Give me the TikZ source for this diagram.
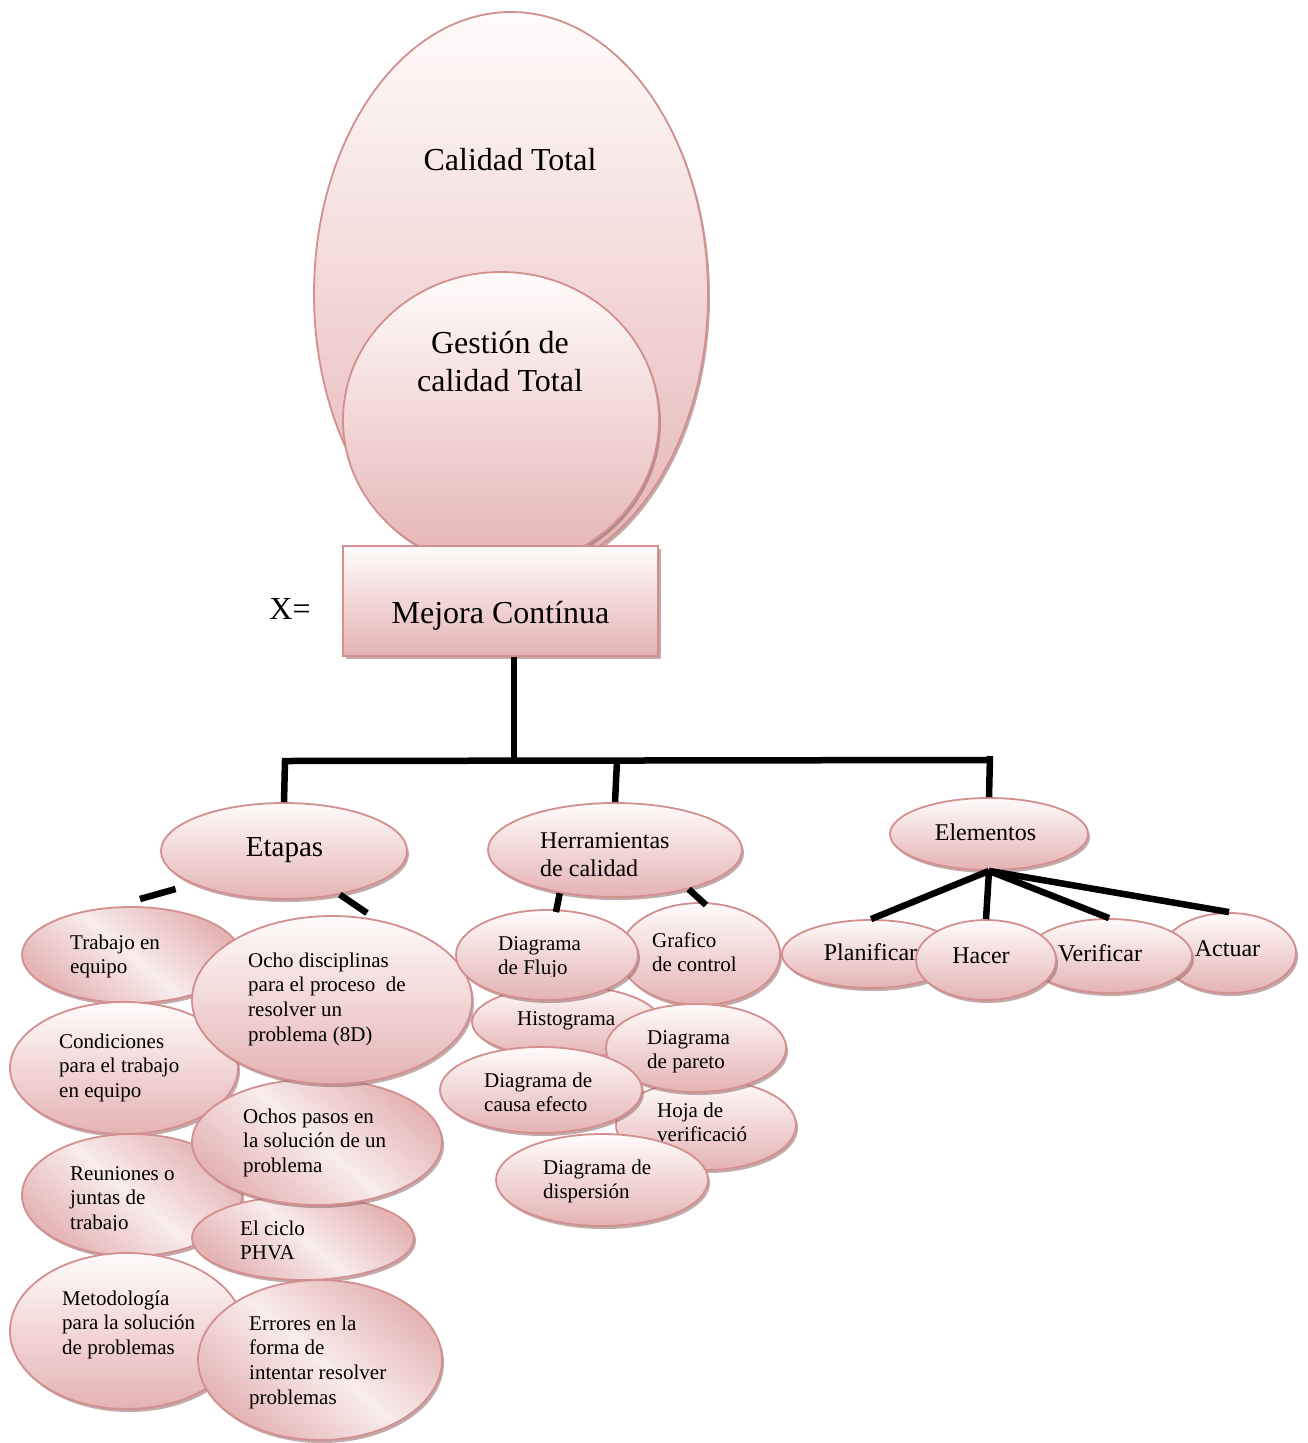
\documentclass[tikz,border=0pt]{standalone}
\usepackage{fontspec}
\setmainfont{Liberation Serif}
\usetikzlibrary{shapes.geometric,shadows,calc}

\definecolor{bubtop}{HTML}{FFFBFB}
\definecolor{bubbot}{HTML}{E4B3B2}
\definecolor{bubmid}{HTML}{F8ECEC}
\definecolor{bubedge}{HTML}{D38F8E}
\definecolor{bubshadow}{HTML}{8E6464}

\tikzset{
  bubble/.style={ellipse, draw=bubedge, line width=1.8pt, inner sep=0pt,
    top color=bubtop, bottom color=bubbot,
    drop shadow={shadow xshift=2pt, shadow yshift=-3pt, fill=bubshadow, opacity=.55}},
  swirl/.style={bubble, top color=bubbot, bottom color=bubbot, middle color=bubmid,
    shading angle=-40},
  plate/.style={rectangle, draw=bubedge, line width=1.8pt, inner sep=0pt,
    top color=bubtop, bottom color=bubbot,
    drop shadow={shadow xshift=3pt, shadow yshift=-3pt, fill=bubshadow, opacity=.55}},
  link/.style={line width=6.5pt, line join=miter},
  lbl/.style={anchor=north west, inner sep=0pt, align=left,
    font=\fontsize{21}{24.6}\selectfont},
  big/.style={inner sep=0pt, font=\fontsize{32}{38}\selectfont},
  mid/.style={inner sep=0pt, anchor=base, font=\fontsize{24}{28}\selectfont},
}

% small multi-line label: name, left x, baseline of first line, text
\newcommand\bubtext[4]{\node[lbl] (#1) at (#2,{#3-17.22}) {\strut #4};}

\begin{document}
\begin{tikzpicture}[x=1pt,y=-1pt]
\useasboundingbox (0,0) rectangle (1307,1443);

% ---- top: nested ellipses and the base plate
\node[bubble, minimum width=394, minimum height=564] (calidad) at (511,294) {};
\node[big, anchor=base] (calidadT) at (510,170) {Calidad Total};
\node[bubble, minimum width=316, minimum height=296] (gestion) at (501,420) {};
\node[big, anchor=north, align=center] (gestionT) at (500,{353-26.6}) {\strut Gestión de\\calidad Total};
\node[plate, minimum width=315, minimum height=110] (mejora) at (500.5,601) {};
\node[big, anchor=base] (mejoraT) at (500.5,623) {Mejora Contínua};
\node[big, anchor=base] (xeq) at (290,619) {X=};

% ---- three branches
\node[bubble, minimum width=246, minimum height=96] (etapas) at (284,851) {};
\node[inner sep=0pt, anchor=base, font=\fontsize{29}{34}\selectfont] (etapasT) at (284.5,856) {Etapas};
\node[bubble, minimum width=254, minimum height=94] (herr) at (615,850) {};
\node[mid, anchor=north west, align=left] (herrT) at (540,{848-19.6}) {\strut Herramientas\\de calidad};
\node[bubble, minimum width=198, minimum height=72] (elem) at (989,834) {};
\node[mid] (elemT) at (985.5,840) {Elementos};

% ---- tools of quality (back to front)
\node[bubble, minimum width=160, minimum height=102] (graf) at (700,954) {};
\bubtext{grafT}{652}{947}{Grafico\\de control}
\node[bubble, minimum width=188, minimum height=72] (hist) at (566,1022) {};
\bubtext{histT}{517}{1025}{Histograma}

% ---- stages (back to front)
\node[swirl, minimum width=218, minimum height=96] (trab) at (131,955) {};
\bubtext{trabT}{70}{949}{Trabajo en\\equipo}
\node[bubble, minimum width=228, minimum height=132] (cond) at (124,1068) {};
\bubtext{condT}{59}{1048}{Condiciones\\para el trabajo\\en equipo}
\node[swirl, minimum width=220, minimum height=122] (reun) at (132,1195) {};
\begin{scope}
  \clip (60,1160) rectangle (200,1230);
  \bubtext{reunT}{70}{1180}{Reuniones o\\juntas de\\trabajo}
\end{scope}
\node[bubble, minimum width=234, minimum height=156] (metod) at (127,1331) {};
\bubtext{metodT}{62}{1305}{Metodología\\para la solución\\de problemas}
\node[swirl, minimum width=222, minimum height=84] (ciclo) at (303,1238) {};
\bubtext{cicloT}{240}{1235}{El ciclo\\PHVA}
\node[swirl, minimum width=244, minimum height=160] (errores) at (320,1360) {};
\bubtext{erroresT}{249}{1330}{Errores en la\\forma de\\intentar resolver\\problemas}
\node[swirl, minimum width=250, minimum height=126] (pasos) at (317,1142) {};
\bubtext{pasosT}{243}{1123}{Ochos pasos en\\la solución de un\\problema}
\node[bubble, minimum width=280, minimum height=168] (disc) at (332,1000) {};
\bubtext{discT}{248}{967}{Ocho disciplinas\\para el proceso~ de\\resolver un\\problema (8D)}

% ---- tools of quality, front part
\node[bubble, minimum width=182, minimum height=90] (flujo) at (547,955) {};
\begin{scope}
  \clip (490,925) rectangle (600,976);
  \bubtext{flujoT}{498}{950}{Diagrama\\de Flujo}
\end{scope}
\node[bubble, minimum width=180, minimum height=90] (hoja) at (706,1125) {};
\bubtext{hojaT}{657}{1117}{Hoja de\\verificació}
\node[bubble, minimum width=180, minimum height=88] (pareto) at (696,1048) {};
\bubtext{paretoT}{647}{1044}{Diagrama\\de pareto}
\node[bubble, minimum width=202, minimum height=86] (causa) at (541,1090) {};
\bubtext{causaT}{484}{1087}{Diagrama de\\causa efecto}
\node[bubble, minimum width=212, minimum height=92] (disp) at (602,1180) {};
\bubtext{dispT}{543}{1174}{Diagrama de\\dispersión}

% ---- elements of the cycle (back to front)
\node[bubble, minimum width=134, minimum height=80] (actuar) at (1229,953) {};
\node[mid] (actuarT) at (1227.5,956) {Actuar};
\node[bubble, minimum width=166, minimum height=74] (verif) at (1109,956) {};
\node[mid] (verifT) at (1100,961) {Verificar};
\node[bubble, minimum width=178, minimum height=68] (planif) at (871,954) {};
\node[mid] (planifT) at (870.5,960) {Planificar};
\node[bubble, minimum width=140, minimum height=80] (hacer) at (986,960) {};
\node[mid] (hacerT) at (981,963) {Hacer};

% ---- connectors
\coordinate (hub) at (514,760);
\coordinate (barL) at (285,761);
\coordinate (barM) at (617,761);
\coordinate (barR) at (990,760);
\coordinate (barTop) at (990,756);
\draw[link] (mejora.south -| hub) -- (hub);
\draw[link] (etapas.north) -- (barL) -- (barR);
\draw[link] (barTop) -- (elem.north);
\draw[link] (barM) -- (herr.north);

\coordinate (stubA) at (140,899);
\coordinate (stubB) at (367,913);
\coordinate (stubC) at (556,912);
\coordinate (stubD) at (706,905);
\draw[link, shorten <=18pt] (etapas.200) -- (stubA);
\draw[link] (etapas.-38) -- (stubB);
\draw[link] (herr.-142) -- (stubC);
\draw[link] (herr.-28) -- (stubD);

\draw[link] (elem.south) -- (planif.north);
\draw[link] (elem.south) -- (hacer.north);
\draw[link] (elem.south) -- (verif.north);
\draw[link] (elem.south) -- (actuar.north);
\end{tikzpicture}
\end{document}
